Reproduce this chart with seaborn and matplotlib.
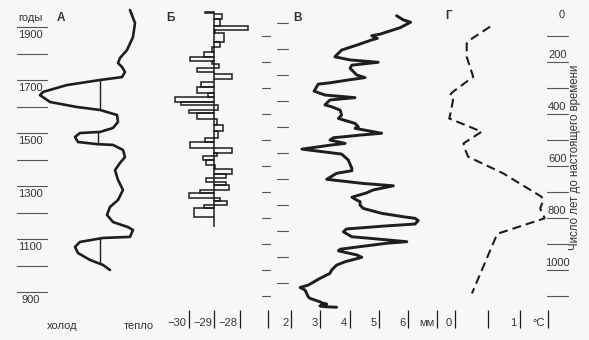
import matplotlib
matplotlib.use("Agg")
import matplotlib.pyplot as plt
import seaborn as sns

# ---------------- data ----------------
# Panel A: temperature curve (relative, cold <-> warm) vs year AD
a_year = [1964, 1915, 1862, 1813, 1783, 1764, 1749, 1730, 1711, 1700, 1681, 1655, 1643,
          1617, 1598, 1587, 1568, 1542, 1519, 1504, 1500, 1485, 1466, 1458, 1455, 1436,
          1409, 1387, 1360, 1323, 1285, 1247, 1221, 1191, 1164, 1145, 1134, 1108, 1104,
          1089, 1070, 1047, 1021, 1002, 983]
a_temp = [3.0, 3.5, 3.3, 2.7, 2.0, 1.8, 2.2, 2.5, 2.2, 0.0, -3.3, -5.7, -6.0,
          -5.0, -2.3, 0.0, 1.7, 1.8, 1.3, 0.0, -2.0, -2.5, -2.2, -0.3, 1.3, 2.3,
          2.5, 2.0, 1.5, 1.8, 2.3, 1.8, 1.0, 0.7, 1.3, 2.8, 3.3, 3.0, 0.3,
          -2.0, -2.5, -2.2, -1.0, 0.3, 1.0]
a_chord_x = [0.0, -0.2, 0.0]
a_chord_top = [1700, 1504, 1104]
a_chord_bottom = [1587, 1458, 1009]
a_tick_years = [900, 1000, 1100, 1200, 1300, 1400, 1500, 1600, 1700, 1800, 1900]
a_label_years = [900, 1100, 1300, 1500, 1700, 1900]

# Panel Б: delta-18O steps (years before present, value)
b_top = [6, 17, 35, 60, 77, 88, 122, 141, 160, 180, 196, 209, 223, 237, 247, 265, 276,
         295, 320, 335, 355, 365, 386, 397, 420, 442, 464, 493, 507, 532, 549, 562,
         577, 596, 613, 631, 647, 660, 673, 692, 705, 724, 733, 750, 763, 795]
b_bottom = [12, 35, 60, 77, 88, 122, 141, 160, 180, 196, 209, 223, 237, 247, 265, 276,
            295, 320, 335, 355, 365, 386, 397, 420, 442, 464, 493, 507, 532, 549, 562,
            577, 596, 613, 631, 647, 660, 673, 692, 705, 724, 733, 750, 763, 795, 835]
b_value = [-29.35, -28.7, -28.75, -27.65, -28.95, -28.6, -28.75, -29.1, -29.4, -29.95,
           -29.1, -28.8, -29.65, -29.0, -28.3, -29.0, -29.5, -29.65, -29.25, -30.55,
           -30.3, -28.85, -30.0, -29.65, -28.9, -28.65, -28.85, -29.35, -29.95, -28.3,
           -28.9, -29.45, -29.3, -28.95, -28.3, -28.55, -29.3, -28.55, -28.4, -29.55,
           -30.0, -28.75, -28.5, -29.4, -29.8, -29.0]
b_base = -29.0
b_ticks = [-30, -29, -28]
b_tick_labels = ["\u221230", "\u221229", "\u221228"]

# Panel В: mm vs years before present
v_bp = [22, 38, 47, 68, 93, 99, 109, 115, 135, 154, 180, 192, 201, 212, 224, 250, 260,
        269, 280, 285, 312, 327, 337, 346, 365, 372, 385, 404, 417, 436, 449, 455, 474,
        481, 487, 491, 500, 513, 519, 535, 554, 577, 609, 618, 628, 651, 667, 676, 692,
        703, 720, 731, 737, 750, 763, 782, 795, 801, 810, 823, 831, 842, 853, 872, 878,
        891, 897, 910, 920, 926, 942, 951, 968, 981, 1000, 1013, 1032, 1058, 1067, 1077,
        1103, 1109, 1122, 1126, 1131, 1135, 1138, 1141, 1143]
v_mm = [5.61, 5.84, 6.09, 5.73, 5.04, 4.76, 4.95, 4.76, 4.25, 3.73, 3.50, 4.02, 4.98,
        4.08, 4.02, 4.25, 4.53, 3.96, 3.33, 2.93, 2.79, 3.16, 4.19, 3.33, 3.16, 3.39,
        3.68, 3.73, 3.62, 4.19, 4.30, 4.19, 5.10, 4.36, 3.85, 3.45, 3.33, 3.85, 3.39,
        2.37, 3.73, 3.96, 4.08, 4.08, 3.56, 3.22, 4.47, 5.50, 4.81, 4.59, 4.08, 4.25,
        4.36, 4.36, 4.47, 5.10, 5.84, 6.24, 6.35, 6.24, 5.16, 3.90, 3.79, 4.08, 4.70,
        5.96, 5.27, 4.36, 3.68, 3.62, 4.25, 4.42, 3.85, 3.56, 3.39, 3.33, 2.99, 2.59,
        2.31, 2.48, 2.59, 2.65, 2.99, 3.05, 3.22, 3.10, 2.99, 3.16, 3.56]
v_ticks = [1.2, 2, 3, 4, 5, 6, 7]
v_tick_labels = ["", "2", "3", "4", "5", "6", "мм"]

# Panel Г: temperature (°C) vs years before present
g_bp = [64, 115, 128, 180, 257, 314, 327, 346, 410, 417, 468, 513, 532, 564, 628, 718,
        731, 763, 801, 859, 878, 1090]
g_temp = [0.54, 0.23, 0.18, 0.18, 0.28, -0.03, -0.08, -0.03, -0.08, -0.09, 0.41, 0.13,
          0.15, 0.20, 0.74, 1.33, 1.36, 1.31, 1.38, 0.67, 0.62, 0.26]
g_ticks = [0, 0.5, 1, 1.43]
g_tick_labels = ["0", "", "1", "\u00b0C"]

bp_ticks = [100, 200, 300, 400, 500, 600, 700, 800, 900, 1000, 1100]
bp_labels = [200, 400, 600, 800, 1000]

# ---------------- style ----------------
sns.set_theme(style="white")
plt.rcParams["font.family"] = ["Liberation Sans", "DejaVu Sans"]
BG = "#f7f7f7"
INK = "#1e1e1e"
TXT = "#333333"

W, H = 589, 340
fig = plt.figure(figsize=(W / 100, H / 100), dpi=100, facecolor=BG)


def panel(x0, x1):
    ax = fig.add_axes([x0 / W, 0, (x1 - x0) / W, 1])
    ax.set_axis_off()
    ax.patch.set_alpha(0)
    return ax


def ftext(x, y, s, **kw):
    kw.setdefault("fontsize", 8)
    kw.setdefault("color", TXT)
    kw.setdefault("ha", "center")
    kw.setdefault("va", "center")
    fig.text(x / W, 1 - y / H, s, **kw)


BP_LIM = (1269, -38.5)
TICK_Y0, TICK_Y1, TICK_LAB = 1154, 1223, 1204

# ---- Panel A ----
axA = panel(0, 160)
axA.set_xlim(-10, 6)
axA.set_ylim(718.9, 2001.9)
sns.lineplot(x=a_temp, y=a_year, sort=False, estimator=None, color=INK, lw=1.9, ax=axA)
axA.vlines(a_chord_x, a_chord_bottom, a_chord_top, color=INK, lw=1.0)
trA = axA.get_yaxis_transform()
for yr in a_tick_years:
    axA.plot([0.106, 0.294], [yr, yr], transform=trA, color="#555555", lw=0.8)
for yr in a_label_years:
    axA.text(0.19, yr - 30, str(yr), transform=trA, ha="center", va="center",
             fontsize=8, color=TXT)
ftext(30, 18, "годы")
ftext(61, 18, "А", fontweight="bold", fontsize=8.5)
ftext(62, 326, "холод")
ftext(139, 326, "тепло")

# ---- Panel Б ----
axB = panel(160, 262)
axB.set_xlim(-31.12, -27.12)
axB.set_ylim(*BP_LIM)
axB.barh(y=b_top, width=[v - b_base for v in b_value],
         height=[b - t for t, b in zip(b_top, b_bottom)], left=b_base, align="edge",
         facecolor="none", edgecolor=INK, lw=1.1)
axB.vlines(b_ticks, TICK_Y0, TICK_Y1, color=INK, lw=0.9)
for t, lab in zip(b_ticks, b_tick_labels):
    axB.text(t - 0.08, TICK_LAB, lab, ha="right", va="center", fontsize=8, color=TXT)
ftext(170, 18, "Б", fontweight="bold", fontsize=8.5)

# ---- Panel В ----
axV = panel(255, 440)
axV.set_xlim(0.769, 7.094)
axV.set_ylim(*BP_LIM)
sns.lineplot(x=v_mm, y=v_bp, sort=False, estimator=None, color=INK, lw=2.1, ax=axV)
trV = axV.get_yaxis_transform()
for b in bp_ticks:
    axV.plot([0.038, 0.081], [b, b], transform=trV, color="#555555", lw=0.8)
    axV.plot([0.119, 0.178], [b - 50, b - 50], transform=trV, color="#555555", lw=0.8)
axV.vlines(v_ticks, TICK_Y0, TICK_Y1, color=INK, lw=0.9)
for t, lab in zip(v_ticks, v_tick_labels):
    axV.text(t - 0.08, TICK_LAB, lab, ha="right", va="center", fontsize=8, color=TXT)
ftext(297, 18, "В", fontweight="bold", fontsize=8.5)

# ---- Panel Г ----
axG = panel(430, 589)
axG.set_xlim(-0.385, 2.062)
axG.set_ylim(*BP_LIM)
sns.lineplot(x=g_temp, y=g_bp, sort=False, estimator=None, color=INK, lw=1.5,
             linestyle=(0, (4.3, 2.4)), ax=axG)
axG.vlines(g_ticks, TICK_Y0, TICK_Y1, color=INK, lw=0.9)
for t, lab in zip(g_ticks, g_tick_labels):
    axG.text(t - 0.05, TICK_LAB, lab, ha="right", va="center", fontsize=8, color=TXT)
trG = axG.get_yaxis_transform()
for b in bp_ticks:
    axG.plot([0.736, 0.868], [b, b], transform=trG, color="#555555", lw=0.8)
for b in bp_labels:
    axG.text(0.80, b - 27, str(b), transform=trG, ha="center", va="center",
             fontsize=8, color=TXT)
axG.text(0.83, 19, "0", transform=trG, ha="center", va="center", fontsize=8, color=TXT)
axG.text(0.912, 565, "Число лет до настоящего времени", transform=trG, rotation=90,
         ha="center", va="center", fontsize=8.3, color=TXT)
ftext(449, 16, "Г", fontweight="bold", fontsize=8.5)

fig.savefig("out.png", dpi=100, facecolor=BG)
